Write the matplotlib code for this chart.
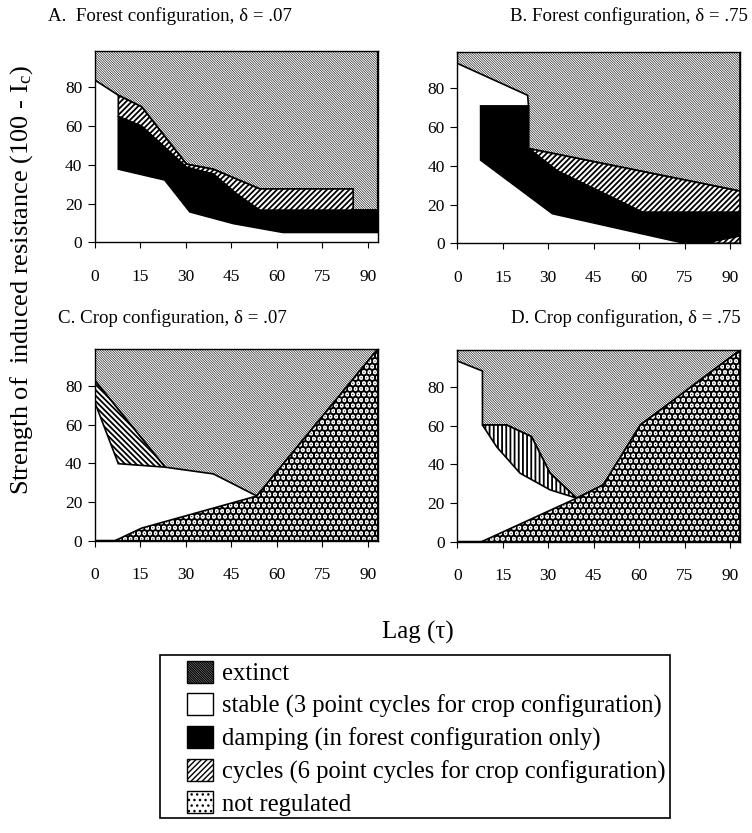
import numpy as np
import matplotlib
matplotlib.use("Agg")
import matplotlib.pyplot as plt
from matplotlib.patches import Patch, Rectangle

plt.rcParams['font.family'] = ['Liberation Serif', 'DejaVu Serif']
plt.rcParams['mathtext.fontset'] = 'stix'

XMAX = 93.3
YMAX = 99

x_ticks = [0, 15, 30, 45, 60, 75, 90]
y_ticks = [0, 20, 40, 60, 80]

titles = ["A.  Forest configuration, \u03b4 = .07",
          "B. Forest configuration, \u03b4 = .75",
          "C. Crop configuration, \u03b4 = .07",
          "D. Crop configuration, \u03b4 = .75"]

# ---- Panel A (forest, delta=.07) ----
A_ext_x = [0, 7.7, 15.4, 30.2, 39, 54.4, 85.2, 85.2, 93.3]
A_ext_y = [83.8, 76, 70, 40.4, 37.8, 27.6, 27.6, 16.5, 16.5]
A_cyc_top_x = [7.7, 15.4, 30.2, 39, 54.4, 85.2, 85.2]
A_cyc_top_y = [76, 70, 40.4, 37.8, 27.6, 27.6, 16.5]
A_dmp_top_x = [7.7, 15.4, 30.2, 39, 46.7, 54.4, 93.3]
A_dmp_top_y = [65, 60, 38.7, 35.3, 25, 16.5, 16.5]
A_dmp_bot_x = [7.7, 23, 31.3, 45.6, 62, 93.3]
A_dmp_bot_y = [37.8, 32.2, 15.7, 9.7, 5.1, 5.1]

# ---- Panel B (forest, delta=.75) ----
B_ext_x = [0, 23.2, 23.5, 23.5, 93.3]
B_ext_y = [93, 76.5, 71, 49, 27]
B_cyc_top_x = [23.5, 93.3]
B_cyc_top_y = [49, 27]
B_dmp_top_x = [7.7, 23.5, 23.5, 33, 61.2, 93.3]
B_dmp_top_y = [71, 71, 49, 37.4, 16, 16]
B_dmp_bot_x = [7.7, 31.4, 75, 81, 93.3]
B_dmp_bot_y = [43, 15.3, 0, 0, 3.8]
B_cyc2_x = [81, 93.3]
B_cyc2_y = [0, 3.8]

# ---- Panel C (crop, delta=.07) ----
C_ext_x = [0, 23.1, 39.1, 53.4, 93.3]
C_ext_y = [82.7, 38, 34.5, 23.1, 99]
C_cyc_top_x = [0, 23.1]
C_cyc_top_y = [82.7, 38]
C_cyc_bot_x = [0, 7.7, 23.1]
C_cyc_bot_y = [71.3, 39.8, 38]
C_nr_x = [0, 6.6, 15.4, 53.4, 93.3]
C_nr_y = [0, 0, 6.5, 23.1, 99]

# ---- Panel D (crop, delta=.75) ----
D_ext_x = [0, 8.3, 8.3, 16.3, 24.5, 30.6, 39.4, 48.2, 60.4, 93.3]
D_ext_y = [93.4, 88.2, 60.3, 60.3, 54.3, 35.4, 22.5, 29.4, 60.3, 99]
D_cyc_top_x = [8.3, 16.3, 24.5, 30.6, 39.4]
D_cyc_top_y = [60.3, 60.3, 54.3, 35.4, 22.5]
D_cyc_bot_x = [8.3, 13, 20.7, 30.6, 39.4]
D_cyc_bot_y = [60.3, 49, 35.4, 26.8, 22.5]
D_nr_x = [0, 8, 39.4, 48.2, 60.4, 93.3]
D_nr_y = [0, 0, 22.5, 29.4, 60.3, 99]

EXT_HATCH = '\\' * 14
CYC_HATCH = '/' * 6
CYC_C_HATCH = '\\' * 6
CYC_D_HATCH = '|' * 4
NR_HATCH = '...'

EXT_LW = 0.4
CYC_LW = 1.3
NR_LW = 4.0


def set_hlw(artist, lw):
    if hasattr(artist, 'set_hatch_linewidth'):
        artist.set_hatch_linewidth(lw)


def region(ax, tx, ty, bx, by, hatch=None, face='white', hlw=1.0, z=2):
    px = list(tx) + list(bx)[::-1]
    py = list(ty) + list(by)[::-1]
    with plt.rc_context({'hatch.linewidth': hlw}):
        p = ax.fill(px, py, facecolor=face, edgecolor='black', hatch=hatch,
                    linewidth=1.2, zorder=z)[0]
    set_hlw(p, hlw)
    return p


def extinct(ax, x, y):
    region(ax, x, y, [x[0], x[-1]], [YMAX, YMAX], hatch=EXT_HATCH, hlw=EXT_LW)


def notreg(ax, x, y):
    region(ax, x, y, [x[0], x[-1]], [0, 0], hatch=NR_HATCH, hlw=NR_LW)


fig = plt.figure(figsize=(7.52, 8.33), dpi=100)
L1, L2, W = 0.1263, 0.6081, 0.376
H = 0.2300
axA = fig.add_axes([L1, 0.7091, W, H])
axB = fig.add_axes([L2, 0.7079, W, H])
axC = fig.add_axes([L1, 0.3509, W, H])
axD = fig.add_axes([L2, 0.3497, W, H])
axes = [axA, axB, axC, axD]

# A
extinct(axA, A_ext_x, A_ext_y)
region(axA, A_cyc_top_x, A_cyc_top_y, A_dmp_top_x, A_dmp_top_y, hatch=CYC_HATCH, hlw=CYC_LW)
region(axA, A_dmp_top_x, A_dmp_top_y, A_dmp_bot_x, A_dmp_bot_y, face='black')
# B
extinct(axB, B_ext_x, B_ext_y)
region(axB, B_cyc_top_x, B_cyc_top_y, B_dmp_top_x[2:], B_dmp_top_y[2:], hatch=CYC_HATCH, hlw=CYC_LW)
region(axB, B_dmp_top_x, B_dmp_top_y, B_dmp_bot_x, B_dmp_bot_y, face='black')
region(axB, B_cyc2_x, B_cyc2_y, B_cyc2_x, [0, 0], hatch=CYC_HATCH, hlw=CYC_LW)
# C
extinct(axC, C_ext_x, C_ext_y)
region(axC, C_cyc_top_x, C_cyc_top_y, C_cyc_bot_x, C_cyc_bot_y, hatch=CYC_C_HATCH, hlw=CYC_LW)
notreg(axC, C_nr_x, C_nr_y)
# D
extinct(axD, D_ext_x, D_ext_y)
region(axD, D_cyc_top_x, D_cyc_top_y, D_cyc_bot_x, D_cyc_bot_y, hatch=CYC_D_HATCH, hlw=CYC_LW)
notreg(axD, D_nr_x, D_nr_y)

title_pos = [(0.064, 0.981), (0.678, 0.981), (0.077, 0.618), (0.679, 0.618)]
for ax, t, (tx, ty) in zip(axes, titles, title_pos):
    ax.set_xlim(0, XMAX)
    ax.set_ylim(0, YMAX)
    ax.set_xticks(x_ticks)
    ax.set_yticks(y_ticks)
    ax.tick_params(axis='x', direction='out', length=4, pad=15, labelsize=12.5)
    ax.tick_params(axis='y', direction='out', length=5, pad=4, labelsize=12.5)
    for s in ax.spines.values():
        s.set_linewidth(1.0)
        s.set_zorder(5)
    fig.text(tx, ty, t, fontsize=13.6, ha='left', va='center')

fig.text(0.029, 0.664, "Strength of  induced resistance (100 - I$_\\mathregular{c}$)",
         rotation=90, fontsize=19, ha='center', va='center')
fig.text(0.556, 0.241, "Lag (\u03c4)", fontsize=18, ha='center', va='center')

legend_labels = ["extinct",
                 "stable (3 point cycles for crop configuration)",
                 "damping (in forest configuration only)",
                 "cycles (6 point cycles for crop configuration)",
                 "not regulated"]
with plt.rc_context({'hatch.linewidth': EXT_LW}):
    h0 = Patch(facecolor='white', edgecolor='black', hatch=EXT_HATCH, linewidth=1.0)
set_hlw(h0, EXT_LW)
h1 = Patch(facecolor='white', edgecolor='black', linewidth=1.0)
h2 = Patch(facecolor='black', edgecolor='black', linewidth=1.0)
with plt.rc_context({'hatch.linewidth': 1.2}):
    h3 = Patch(facecolor='white', edgecolor='black', hatch=CYC_HATCH, linewidth=1.0)
set_hlw(h3, 1.2)
with plt.rc_context({'hatch.linewidth': NR_LW}):
    h4 = Patch(facecolor='white', edgecolor='black', hatch=NR_HATCH, linewidth=1.0)
set_hlw(h4, NR_LW)
handles = [h0, h1, h2, h3, h4]

leg = fig.legend(handles, legend_labels, loc='upper left',
                 bbox_to_anchor=(187 / 752, 1 - 661 / 833), fontsize=17.7,
                 frameon=False,
                 handlelength=1.07, handleheight=1.0, handletextpad=0.37,
                 labelspacing=0.32, borderpad=0.0, borderaxespad=0.0)

fig.add_artist(Rectangle((160 / 752, 1 - 818 / 833), 510 / 752, 163 / 833,
                         transform=fig.transFigure, fill=False,
                         edgecolor='black', linewidth=1.2, zorder=0))

fig.savefig("out.png", dpi=100)
